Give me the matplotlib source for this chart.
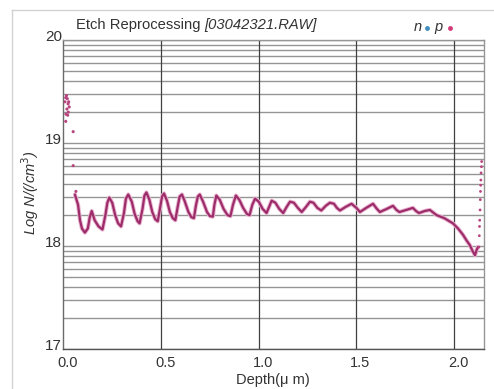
import numpy as np
import matplotlib
matplotlib.use("Agg")
import matplotlib.pyplot as plt
from matplotlib import font_manager

# ---------------- data ----------------
title_main = "Etch Reprocessing "
title_file = "[03042321.RAW]"
x_ticks = [0.0, 0.5, 1.0, 1.5, 2.0]
x_tick_labels = ["0.0", "0.5", "1.0", "1.5", "2.0"]
y_ticks = [17, 18, 19, 20]
y_tick_labels = ["17", "18", "19", "20"]

# p-type profile (continuous part)
p_depth = [0.059, 0.075, 0.085, 0.095, 0.110, 0.125, 0.135, 0.145, 0.160, 0.180,
           0.200, 0.215, 0.225, 0.235, 0.250, 0.265, 0.280, 0.295, 0.310, 0.320,
           0.332, 0.350, 0.365, 0.380, 0.390, 0.405, 0.415, 0.425, 0.440, 0.455,
           0.470, 0.483, 0.495, 0.505, 0.515, 0.530, 0.545, 0.560, 0.573, 0.585,
           0.595, 0.607, 0.620, 0.640, 0.655, 0.668, 0.678, 0.688, 0.698, 0.715,
           0.735, 0.750, 0.765, 0.773, 0.783, 0.800, 0.820, 0.840, 0.855, 0.868,
           0.883, 0.900, 0.920, 0.940, 0.953, 0.967, 0.981, 1.000, 1.020, 1.040,
           1.053, 1.066, 1.085, 1.105, 1.125, 1.143, 1.160, 1.180, 1.200, 1.220,
           1.242, 1.262, 1.280, 1.300, 1.320, 1.343, 1.364, 1.385, 1.400, 1.416,
           1.445, 1.475, 1.500, 1.518, 1.550, 1.585, 1.605, 1.620, 1.655, 1.687,
           1.705, 1.720, 1.755, 1.789, 1.805, 1.820, 1.850, 1.876, 1.910, 1.950,
           1.994, 2.020, 2.045, 2.065, 2.080, 2.095, 2.107, 2.115, 2.122]
p_logn = [18.50, 18.40, 18.25, 18.17, 18.13, 18.17, 18.28, 18.34, 18.25, 18.19,
          18.16, 18.30, 18.42, 18.47, 18.42, 18.30, 18.22, 18.19, 18.32, 18.46,
          18.50, 18.43, 18.31, 18.24, 18.22, 18.36, 18.49, 18.52, 18.45, 18.33,
          18.26, 18.24, 18.37, 18.48, 18.51, 18.44, 18.33, 18.27, 18.25, 18.38,
          18.48, 18.50, 18.44, 18.33, 18.28, 18.27, 18.39, 18.48, 18.50, 18.43,
          18.33, 18.29, 18.285, 18.40, 18.49, 18.45, 18.36, 18.30, 18.29, 18.40,
          18.49, 18.45, 18.37, 18.31, 18.30, 18.40, 18.46, 18.43, 18.36, 18.32,
          18.38, 18.44, 18.42, 18.36, 18.32, 18.38, 18.43, 18.42, 18.37, 18.33,
          18.38, 18.43, 18.42, 18.37, 18.345, 18.39, 18.42, 18.41, 18.37, 18.345,
          18.38, 18.41, 18.37, 18.33, 18.37, 18.41, 18.36, 18.33, 18.36, 18.39,
          18.35, 18.33, 18.35, 18.37, 18.34, 18.32, 18.34, 18.35, 18.30, 18.27,
          18.22, 18.17, 18.11, 18.05, 18.01, 17.95, 17.91, 17.96, 17.99]

# p-type sparse points (surface and end of profile)
p_surf_depth = [0.008, 0.012, 0.016, 0.020, 0.024, 0.018, 0.025, 0.030, 0.013, 0.022,
                0.027, 0.012, 0.050, 0.050, 0.064]
p_surf_logn = [19.40, 19.44, 19.46, 19.43, 19.38, 19.33, 19.30, 19.35, 19.28, 19.27,
               19.40, 19.21, 19.11, 18.78, 18.53]
p_end_depth = [2.127, 2.129, 2.130, 2.131, 2.133, 2.134, 2.135, 2.136, 2.137, 2.138,
               2.140, 2.141]
p_end_logn = [17.99, 18.10, 18.19, 18.25, 18.35, 18.45, 18.53, 18.59, 18.64, 18.71,
              18.77, 18.82]

# ---------------- style ----------------
avail = {f.name for f in font_manager.fontManager.ttflist}
base_font = "Liberation Sans" if "Liberation Sans" in avail else "DejaVu Sans"
narrow_font = "Liberation Sans Narrow" if "Liberation Sans Narrow" in avail else base_font
plt.rcParams["font.family"] = [base_font, "DejaVu Sans"]

W, H = 494, 389
fig = plt.figure(figsize=(W / 100, H / 100), dpi=100)
fig.patch.set_facecolor("white")

L, R, T, B = 63.4, 484.0, 40.0, 349.0
ax = fig.add_axes([L / W, 1 - B / H, (R - L) / W, (B - T) / H])
ax.set_xlim(0, 2.153)
ax.set_ylim(17, 20)


def fx(px):
    return px / W


def fy(py):
    return 1 - py / H


# frame around the figure (light gray)
fig.add_artist(plt.Line2D([fx(12), fx(12)], [fy(10), 0], color="#d2d2d2", lw=1.0))
fig.add_artist(plt.Line2D([fx(12), 1], [fy(10), fy(10)], color="#d2d2d2", lw=1.0))

# grid: log-decade style horizontal lines
for dec in [17, 18, 19]:
    for k in range(1, 10):
        yv = dec + np.log10(k)
        ax.axhline(yv, color="#959595", lw=1.0, zorder=1)
ax.axhline(20, color="#959595", lw=1.0, zorder=1)
for xv in [0.5, 1.0, 1.5, 2.0]:
    ax.axvline(xv, color="#404040", lw=0.9, zorder=1)

for side, col in [("left", "#6a6a6a"), ("bottom", "#555555"), ("top", "#959595"), ("right", "#959595")]:
    ax.spines[side].set_color(col)
    ax.spines[side].set_linewidth(1.0)

ax.set_xticks([])
ax.set_yticks([])

# data
pcol = "#9c2c6a"
ax.plot(p_depth, p_logn, color="#e9b3cf", lw=3.0, zorder=3, solid_capstyle="round")
ax.plot(p_depth, p_logn, color=pcol, lw=1.6, zorder=4, solid_capstyle="round")
ax.scatter(p_surf_depth, p_surf_logn, s=5, color="#b8447f", edgecolors="none", zorder=5, clip_on=False)
ax.scatter(p_end_depth, p_end_logn, s=4, color="#b8447f", edgecolors="none", zorder=5, clip_on=False)

# tick labels
for xv, lab in zip(x_ticks, x_tick_labels):
    px = L + (R - L) * xv / 2.153 + 4
    fig.text(fx(px), fy(363), lab, ha="center", va="center", fontsize=10.5,
             family=[narrow_font, "DejaVu Sans"], color="#333333")
for yv, lab in zip(y_ticks, y_tick_labels):
    py = T + (B - T) * (20 - yv) / 3 - 3
    fig.text(fx(62), fy(py), lab, ha="right", va="center", fontsize=11,
             family=[narrow_font, "DejaVu Sans"], color="#333333")

# title
t1 = fig.text(fx(76), fy(25), title_main, ha="left", va="center", fontsize=10.6, color="#333333")
fig.canvas.draw()
bb = t1.get_window_extent()
fig.text(bb.x1 / W, fy(25), title_file, ha="left", va="center", fontsize=10.6,
         style="italic", color="#333333")

# legend-like markers n / p
fig.text(fx(418), fy(27), "n", ha="center", va="center", fontsize=10.5, style="italic", color="#333333")
fig.add_artist(plt.Line2D([fx(427)], [fy(27.5)], marker="o", ms=3.5, color="#3f8fc0", mec="none"))
fig.text(fx(438), fy(27), "p", ha="center", va="center", fontsize=10.5, style="italic", color="#333333")
fig.add_artist(plt.Line2D([fx(450)], [fy(27.5)], marker="o", ms=3.5, color="#d23a78", mec="none"))

# axis labels
fig.text(fx(273), fy(380), "Depth(\u03bc m)", ha="center", va="center", fontsize=10.5, color="#333333")
fig.text(fx(30), fy(193), "Log N/(/cm$^{3}$)", ha="center", va="center", rotation=90,
         fontsize=10.5, style="italic", color="#333333")

fig.savefig("out.png", dpi=100, facecolor="white")
